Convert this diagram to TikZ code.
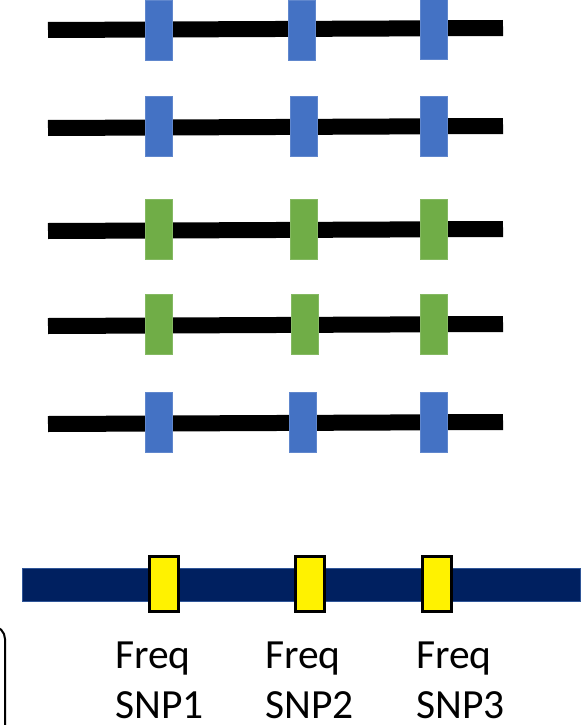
\documentclass[tikz,border=0pt]{standalone}
\usepackage{fontspec}
\setmainfont{Carlito}
\usepackage{tikz}
\usetikzlibrary{positioning}

\definecolor{snpblue}{HTML}{4472C4}
\definecolor{snpgreen}{HTML}{70AD47}
\definecolor{navy}{HTML}{002060}
\definecolor{navyedge}{HTML}{2F5597}

\begin{document}
\begin{tikzpicture}[x=1pt, y=-1pt,
        % Styles
        chrom/.style={line width=16pt, black},
        bluesnp/.style={rectangle, fill=snpblue, draw=snpblue!85!white, line width=0.6pt,
                minimum width=27pt, minimum height=60pt, inner sep=0pt},
        greensnp/.style={rectangle, fill=snpgreen, draw=snpgreen!85!white, line width=0.6pt,
                minimum width=27pt, minimum height=60pt, inner sep=0pt},
        refbar/.style={rectangle, fill=navy, draw=navyedge, line width=1pt,
                minimum width=558pt, minimum height=33pt, inner sep=0pt},
        yellowsnp/.style={rectangle, fill=yellow, draw=black, line width=3pt,
                minimum width=29pt, minimum height=55pt, inner sep=0pt},
        freqlab/.style={anchor=north west, align=left, inner sep=0pt,
                font=\fontsize{41.5}{50}\selectfont}, ]

        \useasboundingbox (0,0) rectangle (588,725);

        % === HAPLOTYPES ===
        \coordinate (h1l) at (48,30);   \coordinate (h1r) at (503,28);
        \coordinate (h2l) at (48,128);  \coordinate (h2r) at (503,126);
        \coordinate (h3l) at (48,231);  \coordinate (h3r) at (503,229);
        \coordinate (h4l) at (48,326);  \coordinate (h4r) at (503,324);
        \coordinate (h5l) at (48,424);  \coordinate (h5r) at (503,422);

        \draw[chrom] (h1l) -- (h1r);
        \draw[chrom] (h2l) -- (h2r);
        \draw[chrom] (h3l) -- (h3r);
        \draw[chrom] (h4l) -- (h4r);
        \draw[chrom] (h5l) -- (h5r);

        % SNP blocks
        \node[bluesnp] (a1) at (158.5,30) {};
        \node[bluesnp] (a2) at (301.5,30.5) {};
        \node[bluesnp] (a3) at (433.5,29.5) {};

        \node[bluesnp] (b1) at (158.5,126) {};
        \node[bluesnp] (b2) at (303.5,126) {};
        \node[bluesnp] (b3) at (433.5,126) {};

        \node[greensnp] (c1) at (158.5,229.5) {};
        \node[greensnp] (c2) at (303.5,229.5) {};
        \node[greensnp] (c3) at (433.5,229.5) {};

        \node[greensnp] (d1) at (158.5,324.5) {};
        \node[greensnp] (d2) at (305,324.5) {};
        \node[greensnp] (d3) at (433.5,324.5) {};

        \node[bluesnp] (e1) at (158.5,422) {};
        \node[bluesnp] (e2) at (302.5,422) {};
        \node[bluesnp] (e3) at (433.5,422) {};

        % === REFERENCE ===
        \node[refbar] (ref) at (301.5,585) {};
        \node[yellowsnp] (y1) at (164,584) {};
        \node[yellowsnp] (y2) at (310,584) {};
        \node[yellowsnp] (y3) at (437,584) {};

        % Labels
        \node[freqlab] (f1) at (115,642) {Freq\\SNP1};
        \node[freqlab] (f2) at (265,642) {Freq\\SNP2};
        \node[freqlab] (f3) at (416,642) {Freq\\SNP3};

        % Box edge (cut off)
        \draw[line width=2pt, rounded corners=13pt] (-30,626) -- (5,626) -- (5,760);

\end{tikzpicture}
\end{document}
